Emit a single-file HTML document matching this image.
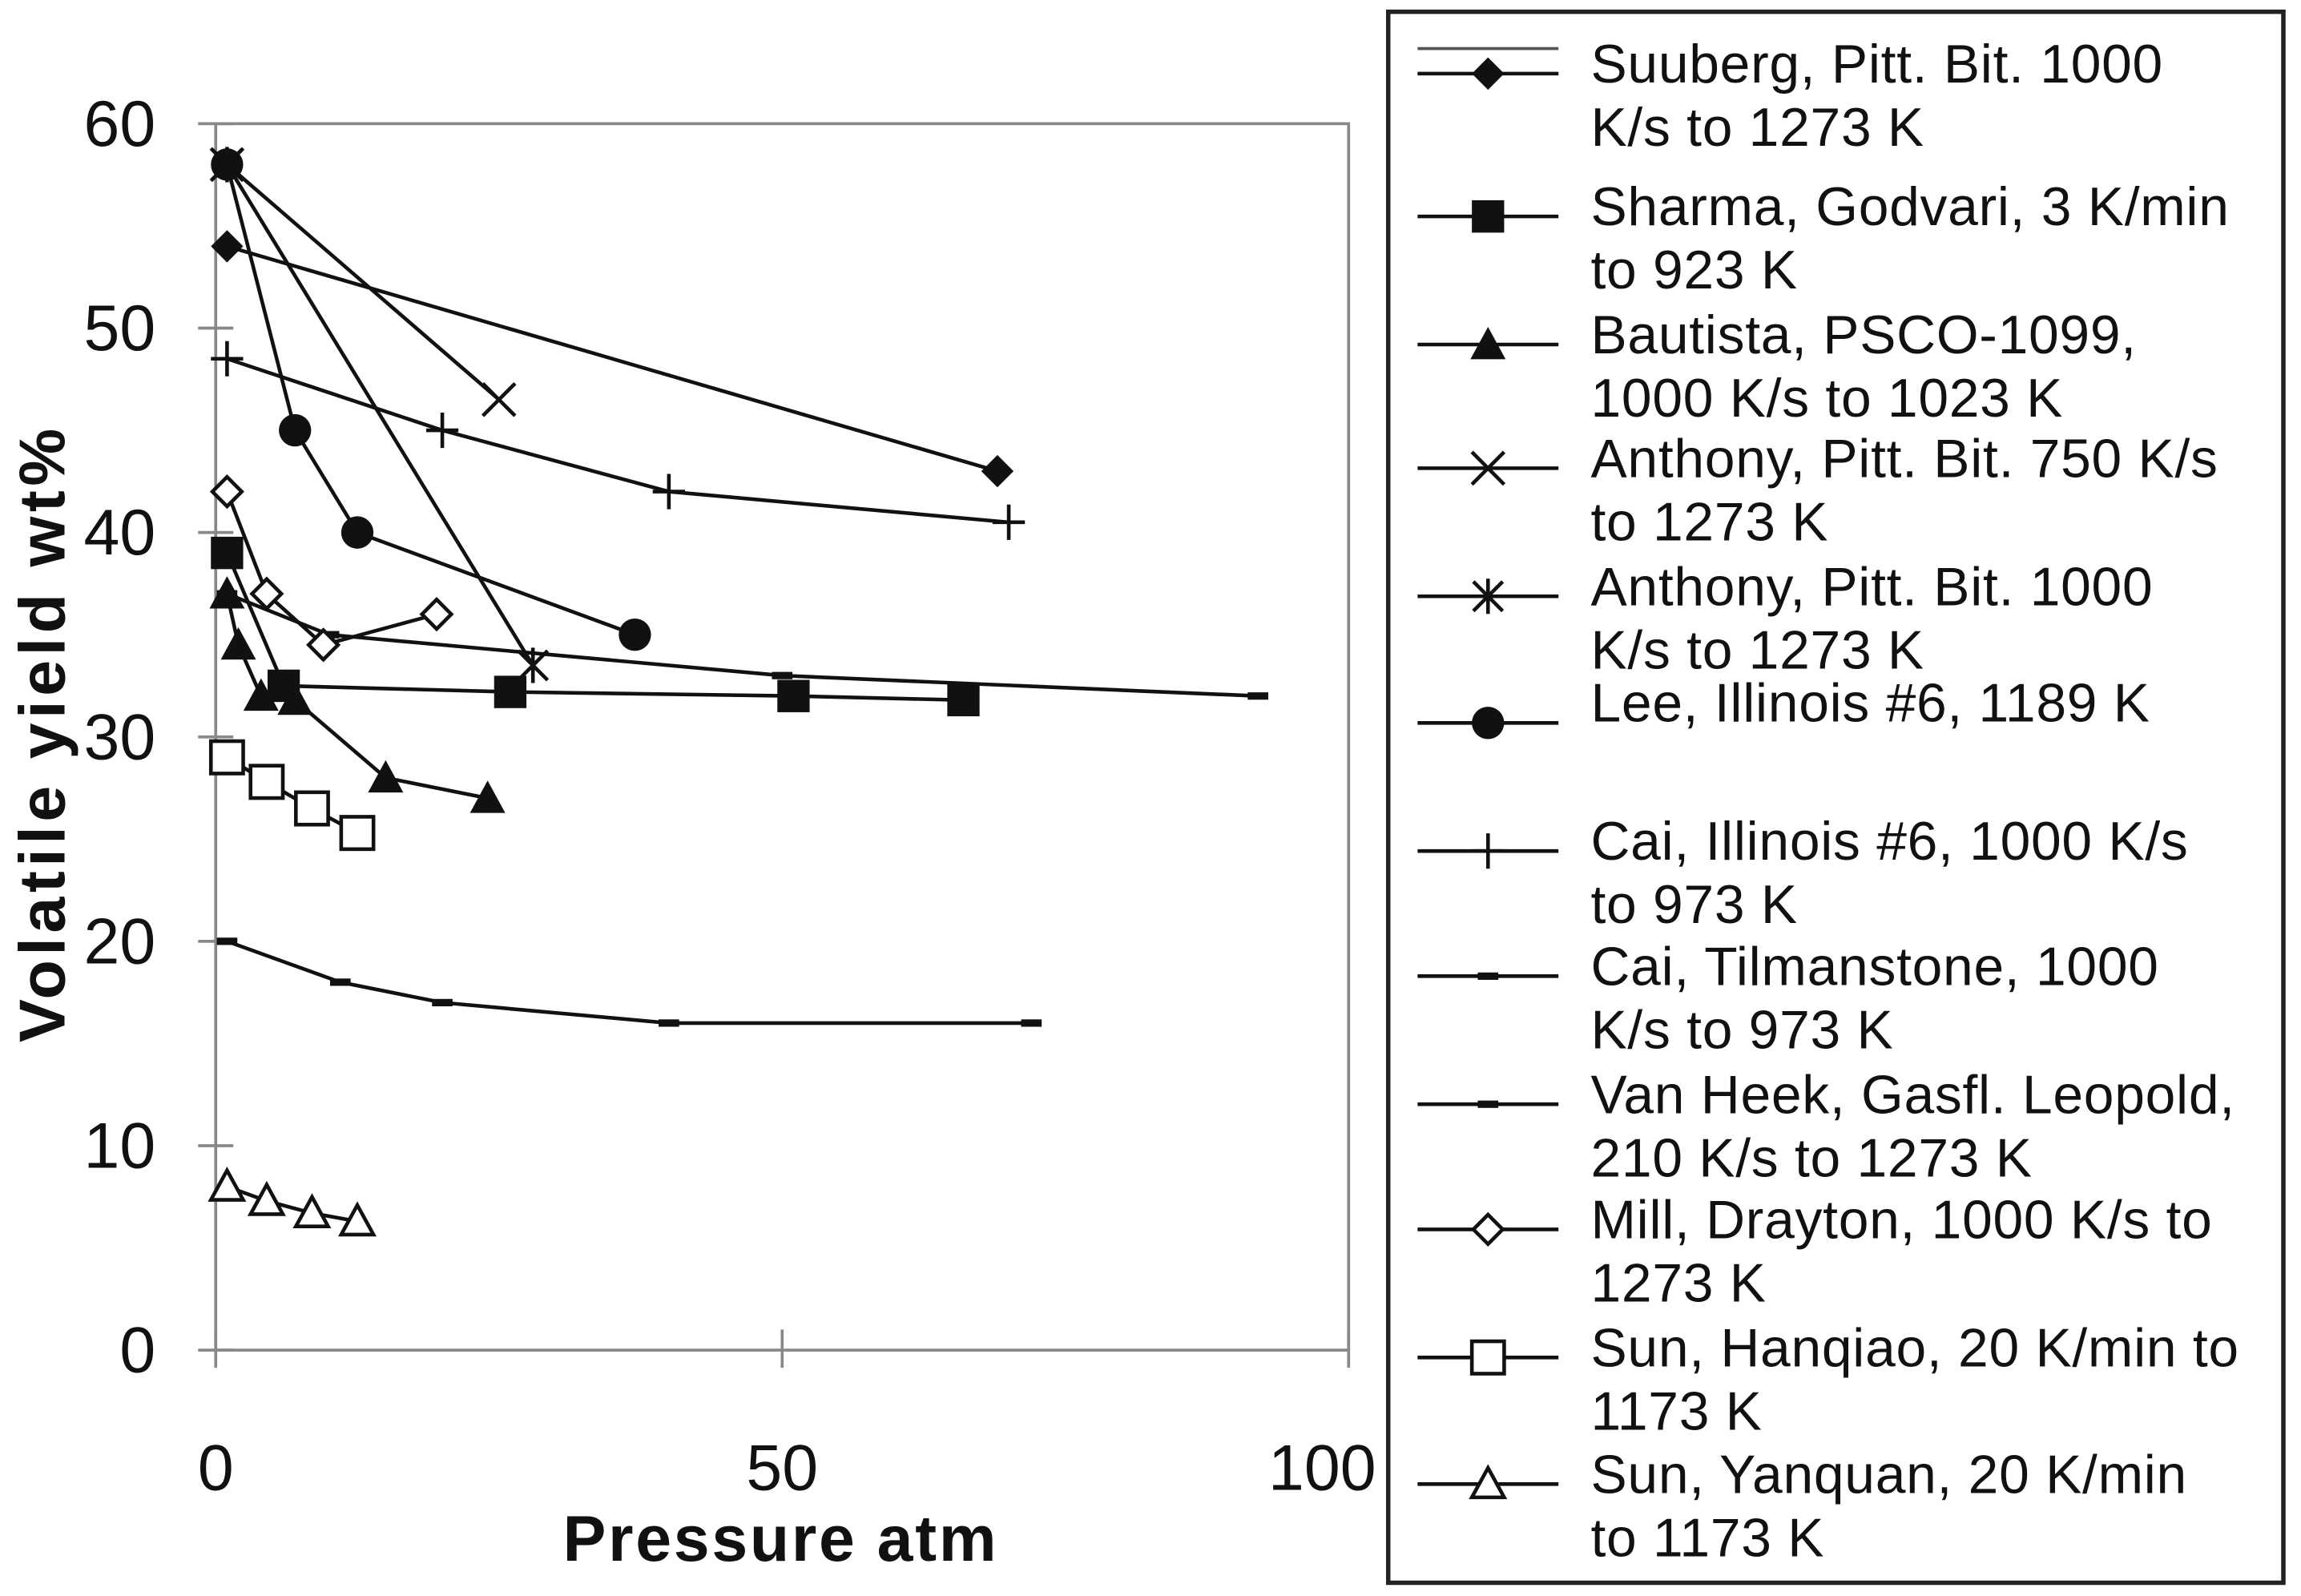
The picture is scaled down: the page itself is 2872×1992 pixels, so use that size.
<!DOCTYPE html>
<html><head><meta charset="utf-8"><style>
html,body{margin:0;padding:0;background:#fff}
svg{display:block}
text{font-family:"Liberation Sans",Arial,sans-serif;fill:#111}
</style></head><body>
<svg id="chart" width="2872" height="1992" viewBox="0 0 1568 1084" preserveAspectRatio="none" xmlns="http://www.w3.org/2000/svg">
<rect x="0" y="0" width="1568" height="1084" fill="#fff"/>
<rect x="147" y="84" width="772" height="833" fill="none" stroke="#888" stroke-width="2"/>
<g id="axes"></g>
<g id="marks"></g>
<text x="532" y="1060" font-size="44" font-weight="bold" text-anchor="middle" letter-spacing="1.5">Pressure  atm</text>
<text transform="translate(44,498) rotate(-90)" font-size="44" font-weight="bold" text-anchor="middle" letter-spacing="3">Volatile yield  wt%</text>
<rect x="946" y="8" width="610" height="1067" fill="none" stroke="#222" stroke-width="3"/>
<g id="legend"></g>
</svg>
<script>
const xTicks=[0,50,100];
const yTicks=[0,10,20,30,40,50,60];
const seriesNames=["Suuberg, Pitt. Bit. 1000|K/s to 1273 K","Sharma, Godvari, 3 K/min|to 923 K","Bautista, PSCO-1099,|1000 K/s to 1023 K","Anthony, Pitt. Bit. 750 K/s|to 1273 K","Anthony, Pitt. Bit. 1000|K/s to 1273 K","Lee, Illinois #6, 1189 K","Cai, Illinois #6, 1000 K/s|to 973 K","Cai, Tilmanstone, 1000|K/s to 973 K","Van Heek, Gasfl. Leopold,|210 K/s to 1273 K","Mill, Drayton, 1000 K/s to|1273 K","Sun, Hanqiao, 20 K/min to|1173 K","Sun, Yanquan, 20 K/min|to 1173 K"];
const markers=["fdiamond","fsquare","ftriangle","x","star","fcircle","plus","dash","dash","odiamond","osquare","otriangle"];
const suubergX=[1,69], suubergY=[54,43];
const sharmaX=[1,6,26,51,66], sharmaY=[39,32.5,32.2,32,31.8];
const bautistaX=[1,2,4,7,15,24], bautistaY=[37,34.5,32,31.8,28,27];
const anthony750X=[1,25], anthony750Y=[58,46.5];
const anthony1000X=[1,28], anthony1000Y=[58,33.5];
const leeX=[1,7,12.5,37], leeY=[58,45,40,35];
const caiIllX=[1,20,40,70], caiIllY=[48.5,45,42,40.5];
const caiTilX=[1,11,20,40,72], caiTilY=[20,18,17,16,16];
const vanHeekX=[1,10,50,92], vanHeekY=[37,35,33,32];
const millX=[1,4.5,9.5,19.5], millY=[42,37,34.5,36];
const hanqiaoX=[1,4.5,8.5,12.5], hanqiaoY=[29,27.8,26.5,25.3];
const yanquanX=[1,4.5,8.5,12.5], yanquanY=[8,7.3,6.7,6.3];
const allX=[suubergX,sharmaX,bautistaX,anthony750X,anthony1000X,leeX,caiIllX,caiTilX,vanHeekX,millX,hanqiaoX,yanquanX];
const allY=[suubergY,sharmaY,bautistaY,anthony750Y,anthony1000Y,leeY,caiIllY,caiTilY,vanHeekY,millY,hanqiaoY,yanquanY];
const NS="http://www.w3.org/2000/svg";
const sx=v=>147+v*(919-147)/100;
const sy=v=>917-v*(917-84)/60;
function mk(tag,attrs,parent){const e=document.createElementNS(NS,tag);for(const k in attrs)e.setAttribute(k,attrs[k]);parent.appendChild(e);return e;}
const axes=document.getElementById('axes');
yTicks.forEach(t=>{
  const l=mk('line',{x1:135,x2:159,y1:sy(t),y2:sy(t),stroke:'#888','stroke-width':2},axes);
  
  
  const tx=mk('text',{x:106,y:sy(t)+15,'font-size':44,'text-anchor':'end'},axes);tx.textContent=t;
  
  
});
xTicks.forEach(t=>{
  const l=mk('line',{x1:sx(t),x2:sx(t),y1:903,y2:929,stroke:'#888','stroke-width':2},axes);
  
  
  const tx=mk('text',{x:sx(t)-(t===100?18:0),y:1012,'font-size':44,'text-anchor':'middle'},axes);tx.textContent=t;
  
  
});
function marker(type,x,y,p){
  const s='#111',w=2.5;
  switch(type){
    case 'fdiamond':return mk('polygon',{points:`${x},${y-11} ${x+11},${y} ${x},${y+11} ${x-11},${y}`,fill:s},p);
    case 'odiamond':return mk('polygon',{points:`${x},${y-10} ${x+10},${y} ${x},${y+10} ${x-10},${y}`,fill:'#fff',stroke:s,'stroke-width':w},p);
    case 'fsquare':return mk('rect',{x:x-11,y:y-11,width:22,height:22,fill:s},p);
    case 'osquare':return mk('rect',{x:x-11,y:y-11,width:22,height:22,fill:'#fff',stroke:s,'stroke-width':w},p);
    case 'ftriangle':return mk('polygon',{points:`${x},${y-12} ${x+12},${y+10} ${x-12},${y+10}`,fill:s},p);
    case 'otriangle':return mk('polygon',{points:`${x},${y-11} ${x+11},${y+9} ${x-11},${y+9}`,fill:'#fff',stroke:s,'stroke-width':w},p);
    case 'fcircle':return mk('circle',{cx:x,cy:y,r:11,fill:s},p);
    case 'x':return mk('path',{d:`M${x-11},${y-11}L${x+11},${y+11}M${x-11},${y+11}L${x+11},${y-11}`,stroke:s,'stroke-width':w},p);
    case 'star':return mk('path',{d:`M${x-10},${y-10}L${x+10},${y+10}M${x-10},${y+10}L${x+10},${y-10}M${x},${y-12}L${x},${y+12}`,stroke:s,'stroke-width':w},p);
    case 'plus':return mk('path',{d:`M${x-11},${y}L${x+11},${y}M${x},${y-12}L${x},${y+12}`,stroke:s,'stroke-width':w},p);
    case 'dash':return mk('rect',{x:x-7,y:y-2.5,width:14,height:5,fill:s},p);
  }
}
const marks=document.getElementById('marks');
allX.forEach((xs,i)=>{
  const g=mk('g',{},marks);
  
  
  const pts=xs.map((x,j)=>sx(x)+','+sy(allY[i][j])).join(' ');
  const pl=mk('polyline',{points:pts,fill:'none',stroke:'#111','stroke-width':2.5},g);
  
  
  xs.forEach((x,j)=>{
    const m=marker(markers[i],sx(x),sy(allY[i][j]),g);
    
    
  });
});
const legend=document.getElementById('legend');
const legYs=[50,147,234,318,405,491,578,663,750,835,922,1008];
mk('line',{x1:966,x2:1062,y1:33,y2:33,stroke:'#555','stroke-width':2},legend);
seriesNames.forEach((n,i)=>{
  const g=mk('g',{},legend);
  
  
  const y=legYs[i];
  mk('line',{x1:966,x2:1062,y1:y,y2:y,stroke:'#111','stroke-width':2.5},g);
  marker(markers[i],1014,y,g);
  const parts=n.split('|');
  parts.forEach((s,k)=>{
    const base=parts.length===1? y-1 : (k===0? y+6 : y+49);
    const t=mk('text',{x:1084,y:base,'font-size':37,'letter-spacing':0.4},g);
    t.textContent=s;
  });
});
</script>
</body></html>
